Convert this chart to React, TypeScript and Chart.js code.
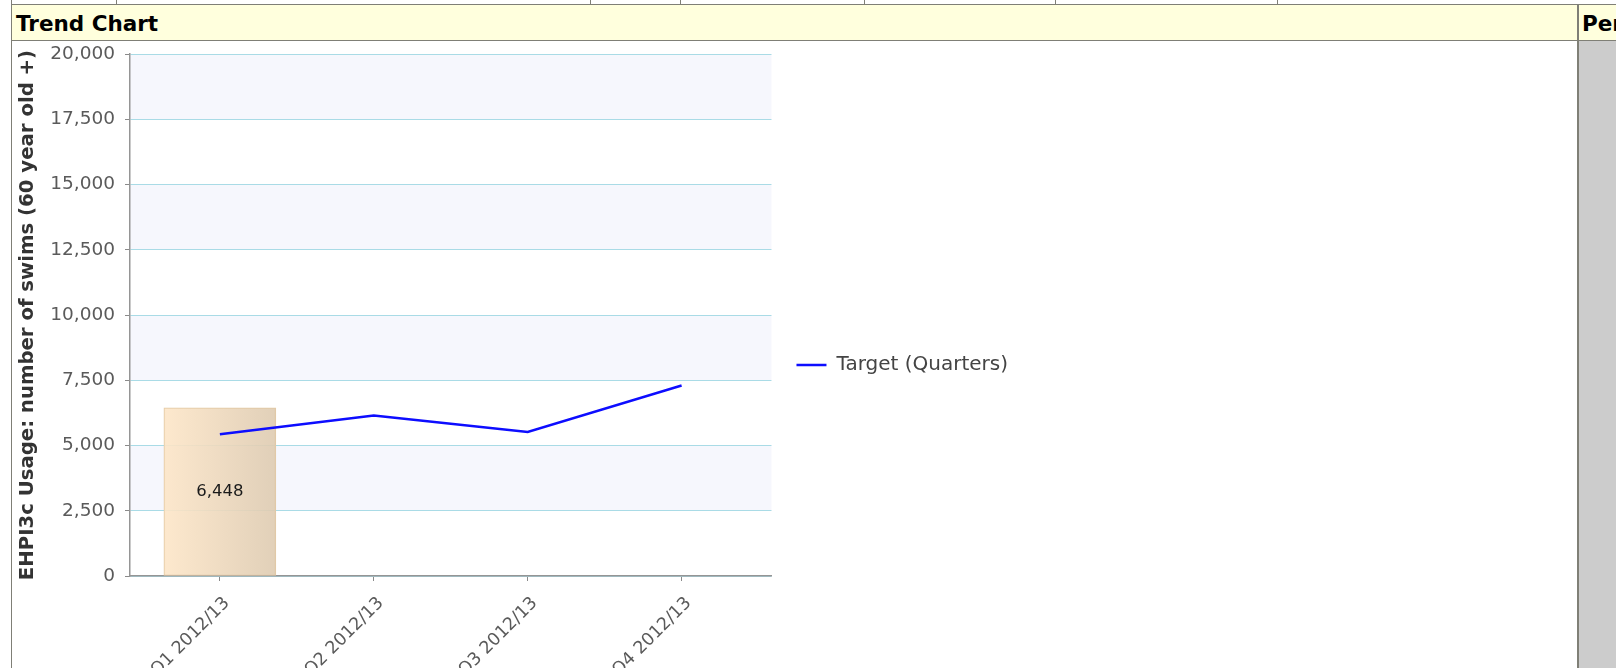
import React, { useEffect, useRef } from 'react';
import { Chart, registerables } from 'chart.js';

Chart.register(...registerables);

// ---------- data ----------
const categories = ['Q1 2012/13', 'Q2 2012/13', 'Q3 2012/13', 'Q4 2012/13'];
const actualValues = [6448];
const targetValues = [5430, 6150, 5520, 7300];
const targetLabel = 'Target (Quarters)';
const actualLabel = 'Actual';
const yAxisTitle = 'EHPI3c Usage: number of swims (60 year old +)';
const yMin = 0;
const yMax = 20000;
const yStep = 2500;
const headerTitle = 'Trend Chart';
const sideHeader = 'Per';

// ---------- style ----------
const FONT = '"DejaVu Sans", Verdana, sans-serif';
const BORDER = '#7f7f76';
const HEADER_BG = '#ffffdd';
const BAR_W = 112;
const CANVAS_W = 1006;
const CANVAS_H = 664;
const CANVAS_TOP = 33;

const bandPlugin = {
  id: 'bands',
  beforeDraw(chart: any) {
    const { ctx, chartArea, scales } = chart;
    const y = scales.y;
    if (!chartArea || !y) return;
    ctx.save();
    ctx.fillStyle = '#f6f7fd';
    for (let v = yMin + yStep; v < yMax; v += yStep * 2) {
      const top = y.getPixelForValue(v + yStep);
      const bottom = y.getPixelForValue(v);
      ctx.fillRect(chartArea.left, top, chartArea.right - chartArea.left, bottom - top);
    }
    ctx.restore();
  },
};

const barLabelPlugin = {
  id: 'barLabel',
  afterDatasetsDraw(chart: any) {
    const { ctx } = chart;
    chart.data.datasets.forEach((ds: any, di: number) => {
      if (ds.type !== 'bar') return;
      const meta = chart.getDatasetMeta(di);
      meta.data.forEach((el: any, i: number) => {
        const v = actualValues[i];
        ctx.save();
        ctx.font = `16.5px ${FONT}`;
        ctx.fillStyle = '#1a1a1a';
        ctx.textAlign = 'center';
        ctx.textBaseline = 'middle';
        ctx.fillText(v.toLocaleString('en-US'), el.x, (el.y + el.base) / 2);
        ctx.restore();
      });
    });
  },
};

function TrendChart() {
  const ref = useRef<HTMLCanvasElement | null>(null);
  useEffect(() => {
    if (!ref.current) return;
    const chart = new Chart(ref.current, {
      type: 'bar',
      data: {
        datasets: [
          {
            type: 'line',
            label: targetLabel,
            data: targetValues.map((v, i) => ({ x: i, y: v })),
            borderColor: '#0d0dff',
            backgroundColor: '#0d0dff',
            borderWidth: 2.5,
            pointRadius: 0,
            tension: 0,
            order: 0,
          } as any,
          {
            type: 'bar',
            label: actualLabel,
            data: actualValues.map((v, i) => ({ x: i, y: v })),
            barThickness: BAR_W,
            borderWidth: 1,
            borderColor: '#e2c9a5',
            borderSkipped: false,
            backgroundColor: (c: any) => {
              const chart = c.chart;
              const xs = chart.scales && chart.scales.x;
              const idx = typeof c.dataIndex === 'number' ? c.dataIndex : 0;
              const cx = xs ? xs.getPixelForValue(idx) : NaN;
              if (!isFinite(cx)) return 'rgba(238,217,189,0.9)';
              const g = chart.ctx.createLinearGradient(cx - BAR_W / 2, 0, cx + BAR_W / 2, 0);
              g.addColorStop(0, 'rgba(253,230,200,0.9)');
              g.addColorStop(1, 'rgba(222,203,177,0.9)');
              return g;
            },
            order: 1,
          } as any,
        ],
      },
      options: {
        animation: false,
        responsive: false,
        devicePixelRatio: 1,
        font: { family: FONT },
        layout: { padding: { top: 0, left: 0, right: 0, bottom: 0 } },
        plugins: {
          tooltip: { enabled: false },
          legend: {
            position: 'right',
            labels: {
              filter: (item: any) => item.text === targetLabel,
              usePointStyle: true,
              pointStyle: 'line',
              pointStyleWidth: 30,
              padding: 25,
              color: '#444',
              font: { family: FONT, size: 20 },
            },
          },
        },
        scales: {
          x: {
            type: 'linear',
            offset: false,
            min: -0.584,
            max: 3.584,
            afterBuildTicks: (s: any) => {
              s.ticks = categories.map((_, i) => ({ value: i }));
            },
            afterFit: (s: any) => {
              s.height = 121;
            },
            ticks: {
              autoSkip: false,
              minRotation: 45,
              maxRotation: 45,
              padding: 12,
              labelOffset: 7,
              color: '#5a5a5a',
              font: { family: FONT, size: 17.5 },
              callback: (v: any) => categories[v as number],
            },
            grid: {
              offset: false,
              drawOnChartArea: false,
              drawTicks: true,
              tickLength: 5,
              tickColor: '#8a8a8a',
            },
            border: { color: '#959595', width: 1.5 },
          },
          y: {
            min: yMin,
            max: yMax,
            afterFit: (s: any) => {
              s.width = 118;
            },
            ticks: {
              stepSize: yStep,
              padding: 10,
              color: '#5a5a5a',
              font: { family: FONT, size: 18.5 },
            },
            grid: {
              color: '#a9dbe6',
              lineWidth: 1,
              tickLength: 5,
              tickColor: '#8a8a8a',
            },
            border: { color: '#959595', width: 1.5 },
            title: {
              display: true,
              text: yAxisTitle,
              color: '#333',
              padding: { top: 4, bottom: 0 },
              font: { family: FONT, size: 19.7, weight: 'bold' },
            },
          },
        },
      } as any,
      plugins: [bandPlugin, barLabelPlugin],
    });
    return () => chart.destroy();
  }, []);
  return (
    <canvas
      ref={ref}
      width={CANVAS_W}
      height={CANVAS_H}
      style={{ position: 'absolute', left: 12, top: CANVAS_TOP, width: CANVAS_W, height: CANVAS_H }}
    />
  );
}

const box = (left: number, top: number, width: number, height: number, bg: string, key?: string) => (
  <div key={key} style={{ position: 'absolute', left, top, width, height, background: bg }} />
);

export default function App() {
  const topCellLines = [116, 590, 680, 864, 1055, 1277];
  return (
    <div
      style={{
        position: 'fixed',
        left: 0,
        top: 0,
        width: 1616,
        height: 668,
        overflow: 'hidden',
        background: '#fff',
        fontFamily: FONT,
      }}
    >
      {box(12, 5, 1565, 35, HEADER_BG)}
      {box(1579, 5, 37, 35, HEADER_BG)}
      {box(1579, 41, 37, 627, '#cccccc')}
      {box(11, 4, 1605, 1, BORDER)}
      {topCellLines.map((x) => box(x, 0, 1, 4, BORDER, 'l' + x))}
      {box(11, 0, 1, 668, BORDER)}
      {box(12, 40, 1604, 1, BORDER)}
      {box(1577, 4, 2, 664, BORDER)}
      <div
        style={{
          position: 'absolute',
          left: 16,
          top: 5,
          height: 36,
          lineHeight: '37px',
          fontSize: 21.5,
          fontWeight: 'bold',
          color: '#000',
          whiteSpace: 'nowrap',
        }}
      >
        {headerTitle}
      </div>
      <div
        style={{
          position: 'absolute',
          left: 1582,
          top: 5,
          height: 36,
          lineHeight: '37px',
          fontSize: 21.5,
          fontWeight: 'bold',
          color: '#000',
          whiteSpace: 'nowrap',
        }}
      >
        {sideHeader}
      </div>
      <TrendChart />
    </div>
  );
}
